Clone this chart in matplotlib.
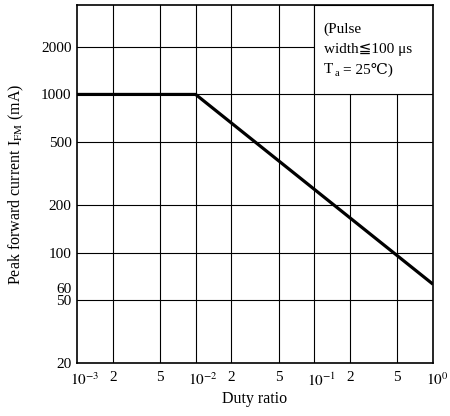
import numpy as np
import matplotlib
matplotlib.use("Agg")
import matplotlib.pyplot as plt
from matplotlib.patches import Rectangle
from matplotlib.transforms import ScaledTranslation

plt.rcParams['font.family'] = ['Liberation Serif', 'DejaVu Serif', 'DejaVu Sans', 'Noto Sans CJK JP']
plt.rcParams['mathtext.fontset'] = 'stix'

# data
duty = [1e-3, 1e-2, 1.0]
ifm = [1000, 1000, 63]

xticks = [1e-3, 2e-3, 5e-3, 1e-2, 2e-2, 5e-2, 1e-1, 2e-1, 5e-1, 1.0]
xlabels = [r'$10^{-3}$', '2', '5', r'$10^{-2}$', '2', '5', r'$10^{-1}$', '2', '5', r'$10^{0}$']
ygrid = [50, 100, 200, 500, 1000, 2000]
yticks = [20, 50, 60, 100, 200, 500, 1000, 2000]

fig = plt.figure(figsize=(4.5, 4.16), dpi=100)
ax = fig.add_axes([77/450, 53/416, 356/450, 358/416])
ax.set_xscale('log')
ax.set_yscale('log')
ax.set_xlim(1e-3, 1.0)
ax.set_ylim(20, 3680)

# grid lines
for x in xticks[1:-1]:
    ax.axvline(x, color='black', lw=0.8, zorder=1)
for y in ygrid:
    ax.axhline(y, color='black', lw=0.8, zorder=1)

# note box hides the grid behind it
ax.add_patch(Rectangle((0.1, 1000), 0.9, 3680 - 1000, facecolor='white',
                       edgecolor='black', lw=0.8, zorder=2))
fs = 11
ax.text(0.12, 2580, '(Pulse', fontsize=fs, va='center', zorder=3)
ax.text(0.12, 1930, 'width≦100 μs', fontsize=fs, va='center', zorder=3)
ax.annotate('T', (0.12, 1440), fontsize=fs, va='center', zorder=3)
ax.annotate('a', (0.12, 1440), xytext=(7.5, -3), textcoords='offset points',
            fontsize=7.5, va='center', zorder=3)
ax.annotate('= 25℃)', (0.12, 1440), xytext=(14, 0), textcoords='offset points',
            fontsize=fs, va='center', zorder=3)

ax.plot(duty, ifm, color='black', lw=2.3, zorder=4, solid_capstyle='butt')

ax.set_xticks(xticks)
ax.set_xticklabels(xlabels)
ax.xaxis.set_minor_locator(matplotlib.ticker.NullLocator())
ax.set_yticks(yticks)
ax.set_yticklabels([str(v) for v in yticks])
ax.yaxis.set_minor_locator(matplotlib.ticker.NullLocator())
ax.tick_params(length=0, labelsize=11)
ax.tick_params(axis='x', pad=6)
ax.tick_params(axis='y', pad=4)

shift = ScaledTranslation(-0.075, 0, fig.dpi_scale_trans)
for lbl in ax.get_xticklabels():
    if lbl.get_text().startswith('$'):
        lbl.set_horizontalalignment('left')
        lbl.set_transform(lbl.get_transform() + shift)

for s in ax.spines.values():
    s.set_linewidth(1.2)
    s.set_zorder(5)

ax.set_ylabel('Peak forward current I$_{\\rm FM}$ (mA)', fontsize=11.5, labelpad=11)
ax.set_xlabel('Duty ratio', fontsize=11.5, labelpad=2)

fig.savefig('out.png', dpi=100)
